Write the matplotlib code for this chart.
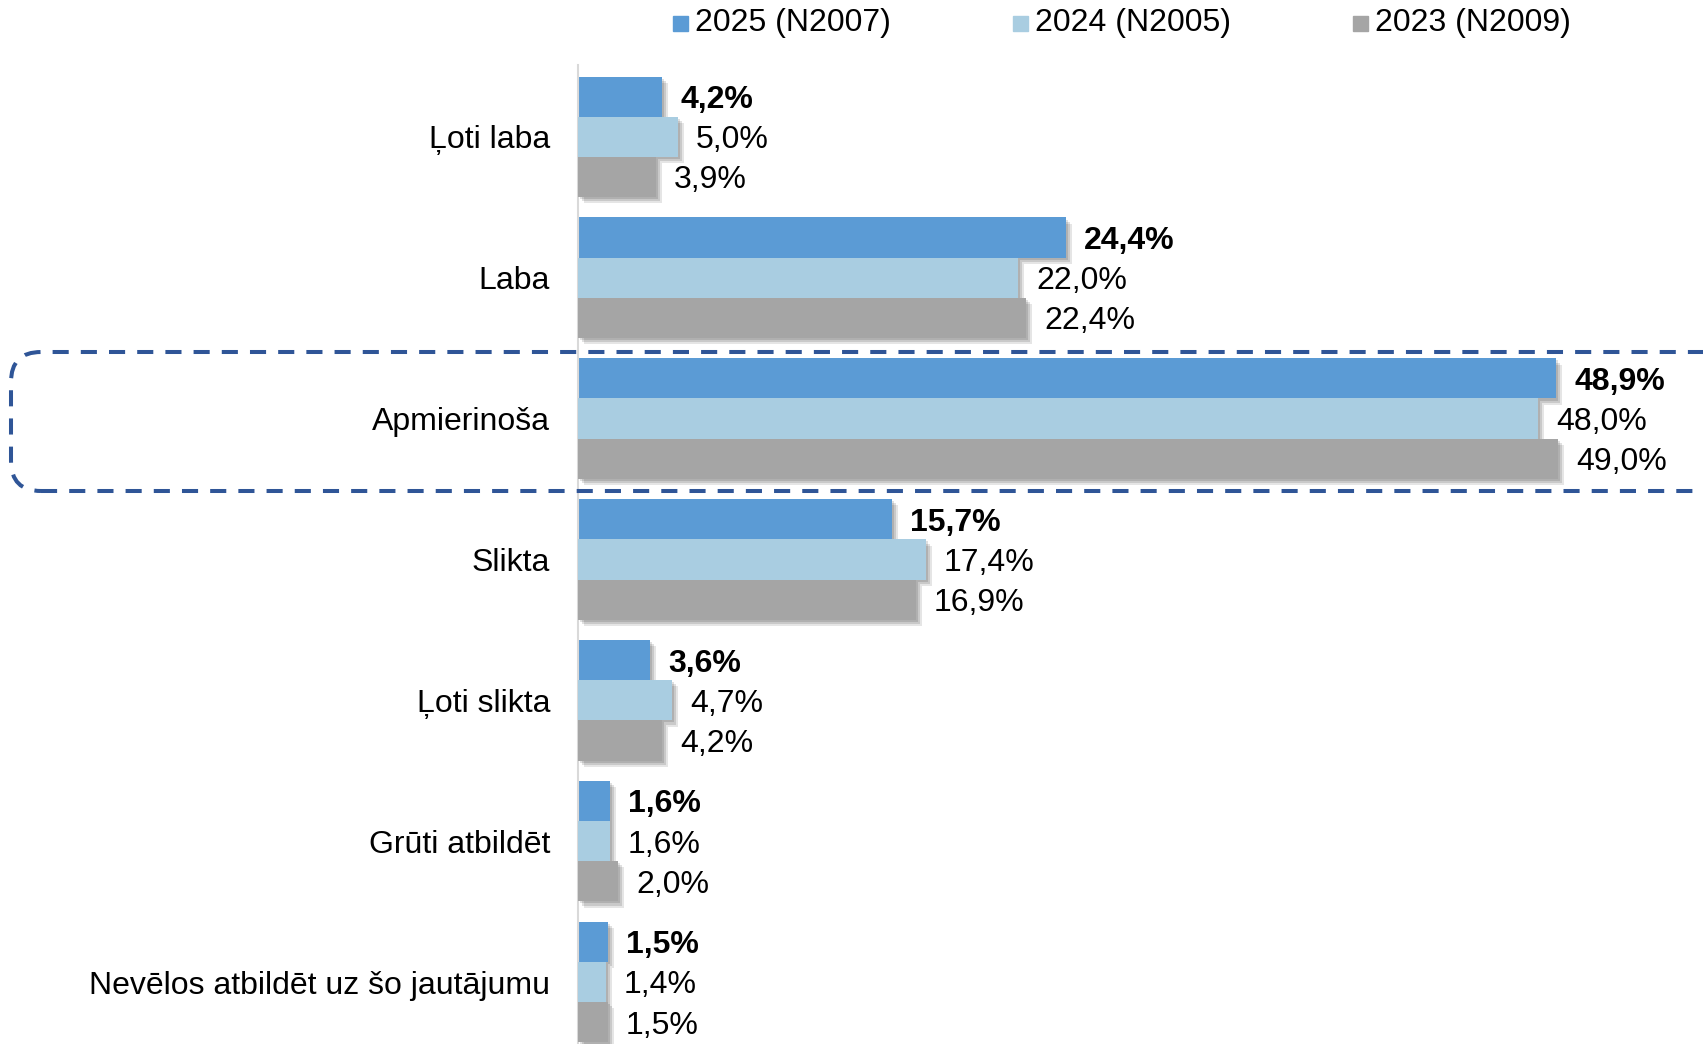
import matplotlib
matplotlib.use("Agg")
import matplotlib.pyplot as plt
import matplotlib.patheffects as pe
from matplotlib.patches import Rectangle, FancyBboxPatch

plt.rcParams["font.family"] = ["Liberation Sans", "DejaVu Sans"]

categories = [
    "Ļoti laba",
    "Laba",
    "Apmierinoša",
    "Slikta",
    "Ļoti slikta",
    "Grūti atbildēt",
    "Nevēlos atbildēt uz šo jautājumu",
]
series_labels = ["2025 (N2007)", "2024 (N2005)", "2023 (N2009)"]
vals_2025 = [4.2, 24.4, 48.9, 15.7, 3.6, 1.6, 1.5]
vals_2024 = [5.0, 22.0, 48.0, 17.4, 4.7, 1.6, 1.4]
vals_2023 = [3.9, 22.4, 49.0, 16.9, 4.2, 2.0, 1.5]
colors = ["#5B9BD5", "#A9CDE1", "#A5A5A5"]

W, H = 1703, 1044
fig = plt.figure(figsize=(W / 100, H / 100), dpi=100)
ax = fig.add_axes([578 / W, 0, 1 - 578 / W, 1 - 65 / H])

bh = 0.285
shadow = [
    pe.SimplePatchShadow(offset=(4.5, -4.5), shadow_rgbFace="black", alpha=0.10),
    pe.SimplePatchShadow(offset=(3, -3), shadow_rgbFace="black", alpha=0.12),
    pe.SimplePatchShadow(offset=(1.5, -1.5), shadow_rgbFace="black", alpha=0.12),
    pe.Normal(),
]

ys = list(range(len(categories)))
all_vals = [vals_2025, vals_2024, vals_2023]
for k, (vals, col) in enumerate(zip(all_vals, colors)):
    pos = [y + (k - 1) * bh for y in ys]
    bars = ax.barh(pos, vals, height=bh, color=col, zorder=2 + k)
    for b in bars:
        b.set_path_effects(shadow)
    for p, v in zip(pos, vals):
        ax.annotate(
            f"{v:.1f}%".replace(".", ","),
            xy=(v, p), xytext=(13, -2.5), textcoords="offset points",
            va="center", ha="left", fontsize=23,
            fontweight="bold" if k == 0 else "normal", zorder=10,
        )

ax.set_xlim(0, (W - 578) / 20)
ax.set_ylim(6.44, -0.51)
ax.set_yticks(ys)
ax.set_yticklabels(categories, fontsize=23)
ax.tick_params(axis="y", length=0, pad=20)
ax.set_xticks([])
for s in ["top", "right", "bottom"]:
    ax.spines[s].set_visible(False)
ax.spines["left"].set_color("#D9D9D9")
ax.spines["left"].set_linewidth(1.5)
ax.patch.set_alpha(0)

# legend on top
for k, (lab, col) in enumerate(zip(series_labels, colors)):
    x0 = 673 + 340 * k
    fig.patches.append(Rectangle((x0 / W, 1 - 31 / H), 15 / W, 15 / H,
                                 transform=fig.transFigure, color=col))
    fig.text((x0 + 22) / W, 1 - 23 / H, lab, va="center", ha="left", fontsize=23)

# dashed highlight box around "Apmierinoša"
box = FancyBboxPatch((0.11, 5.53), 17.4, 1.39,
                     boxstyle="round,pad=0,rounding_size=0.3",
                     transform=fig.dpi_scale_trans, fill=False,
                     edgecolor="#2F5597", linewidth=2.9,
                     linestyle=(0, (4.0, 3.0)), zorder=20)
fig.patches.append(box)

fig.savefig("out.png", dpi=100)
